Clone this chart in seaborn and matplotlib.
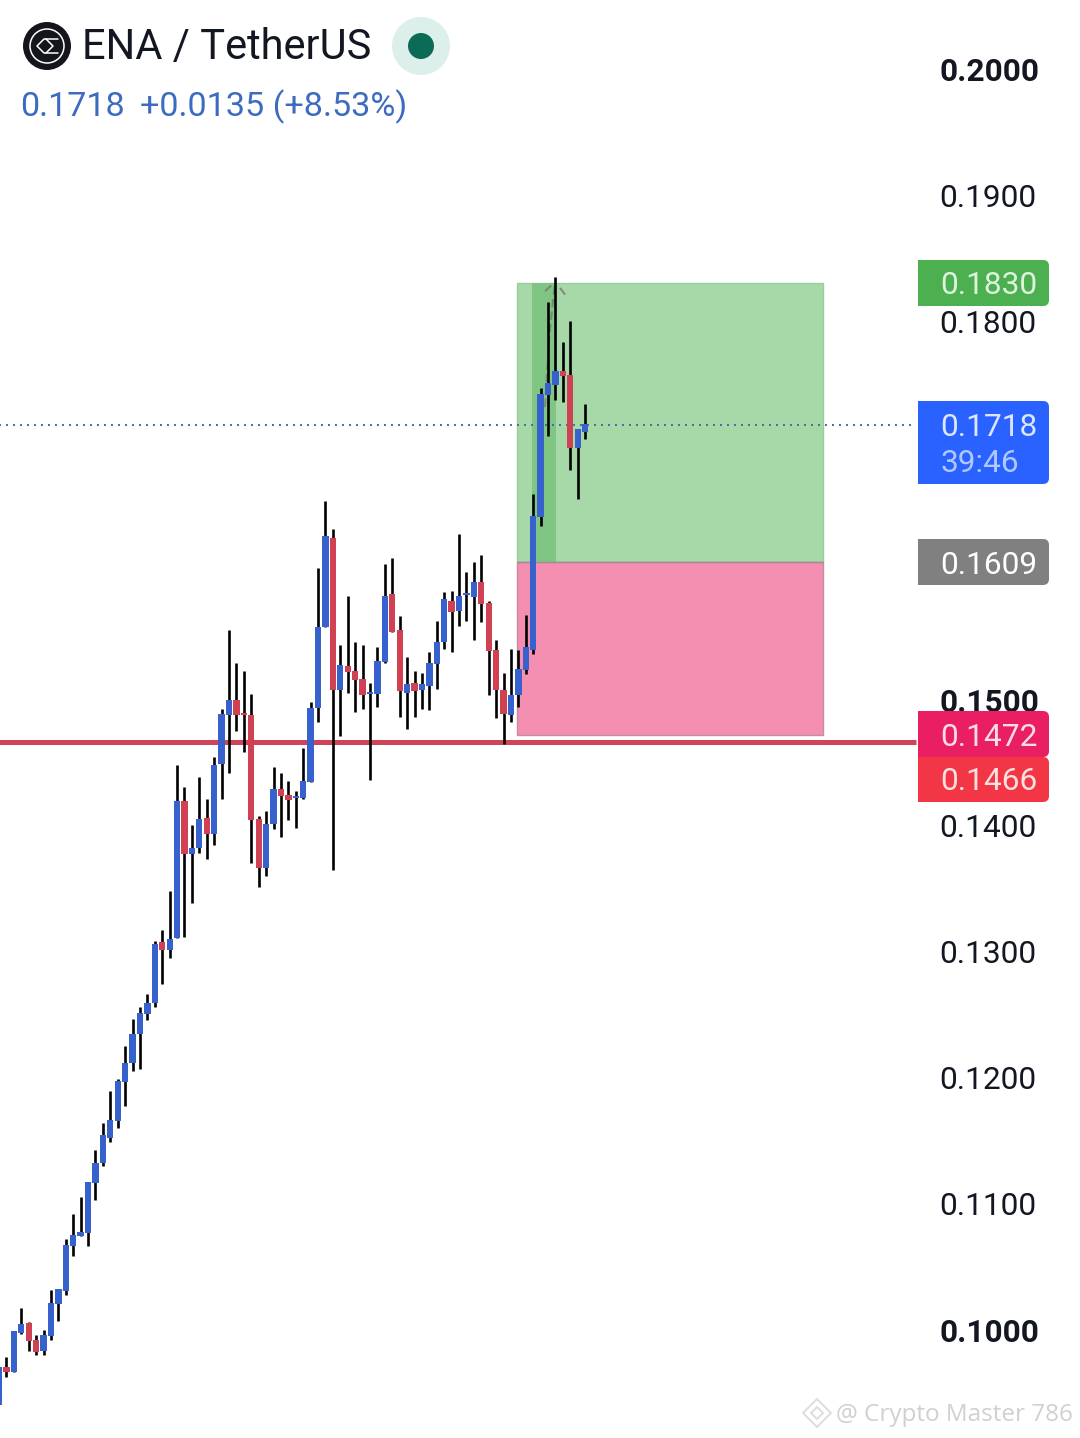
import pandas as pd
import matplotlib
matplotlib.use('Agg')
import matplotlib.pyplot as plt
import seaborn as sns
from matplotlib.lines import Line2D
from matplotlib.patches import Circle, FancyBboxPatch, Polygon, Rectangle
from matplotlib.transforms import Affine2D

# Candles
opens = [.09405,.09707,.09667,.09976,.10056,.09921,.09833,.09952,.10206,.10309,.10666,.10745,.10769,.11166,.11324,.11523,.11657,.11967,.12117,.12347,
         .12506,.12593,.13077,.13013,.13109,.14195,.13775,.13822,.1406,.13933,.14488,.14877,.14996,.14893,.14877,.14052,.13664,.14013,.1429,.14243,
         .14219,.14219,.14346,.14932,.15575,.1628,.15075,.15266,.15226,.15162,.15043,.15043,.15297,.15836,.15551,.15051,.15131,.15075,.15107,.15281,
         .15456,.15781,.15702,.15829,.15813,.15932,.15765,.15392,.15075,.14877,.15036,.15234,.15392,.16447,.17415,.17494,.17605,.17573,.16994,.17121]
closes = [.09707,.09667,.09992,.10048,.09913,.09826,.0996,.10214,.10325,.10674,.10753,.10777,.11174,.11324,.11546,.11665,.11975,.12117,.12347,.12514,
          .12593,.13061,.13013,.13101,.14195,.13775,.13822,.14052,.13933,.1448,.14885,.14996,.14877,.14877,.14044,.13664,.14013,.1429,.14235,.14203,
          .14235,.14354,.14932,.15575,.16296,.15075,.15273,.15218,.15155,.15036,.15059,.15305,.15821,.15535,.15067,.15123,.15067,.15123,.15289,.15456,
          .15797,.15694,.15821,.15844,.15932,.15757,.15384,.15075,.14885,.15036,.15242,.15416,.16455,.17422,.1751,.17605,.17565,.16994,.17145,.17185]
highs = [.09707,.09786,.09992,.10174,.10063,.0996,.1,.10317,.10325,.10722,.1092,.11055,.11174,.11427,.11642,.11895,.1199,.12252,.12466,.12561,
         .12664,.13085,.13172,.13481,.1448,.14306,.14005,.14385,.14211,.14544,.14925,.15551,.15289,.15226,.15043,.14076,.14116,.14465,.14417,.14354,
         .14274,.14615,.1498,.16043,.16574,.16352,.15432,.15821,.15456,.15432,.15131,.15416,.16074,.16122,.15662,.15337,.15226,.1521,.15377,.15622,
         .15852,.1586,.16312,.16011,.1609,.16146,.15781,.15472,.1521,.154,.15392,.1567,.16629,.1747,.18152,.1835,.17835,.18001,.17145,.17343]
lows = [.09405,.09627,.09667,.09968,.09833,.09802,.09802,.09921,.10071,.10278,.10587,.10745,.10666,.11031,.113,.11491,.11602,.11776,.12054,.1207,
        .12458,.12561,.12744,.1295,.13109,.13116,.13386,.13783,.13735,.13846,.14211,.14417,.1475,.14584,.13703,.13513,.136,.13973,.13909,.14044,
        .13981,.14211,.14346,.14821,.15575,.13648,.1471,.15051,.14901,.14925,.14362,.1494,.15289,.15535,.14861,.14766,.14861,.14925,.14917,.15083,
        .154,.15377,.15583,.15622,.15472,.15614,.15036,.14853,.14647,.14821,.1494,.15202,.15361,.16376,.17089,.17375,.17359,.1682,.1659,.17066]

tick_values = [0.10, 0.11, 0.12, 0.13, 0.14, 0.15, 0.18, 0.19, 0.20]
tick_labels = ['0.1000', '0.1100', '0.1200', '0.1300', '0.1400', '0.1500', '0.1800', '0.1900', '0.2000']
bold_labels = ['0.1000', '0.1500', '0.2000']

target_price = 0.1830
last_price = 0.1718
entry_price = 0.1609
stop_price = 0.1472
support_price = 0.1466

BLUE = '#3762CE'
RED = '#CF4153'
INK = '#131722'

df = pd.DataFrame({'idx': range(len(opens)), 'open': opens, 'close': closes, 'high': highs, 'low': lows})
df['body_low'] = df[['open', 'close']].min(axis=1)
df['height'] = (df['close'] - df['open']).abs()

sns.set_theme(style='white')
plt.rcParams['font.family'] = ['Roboto', 'DejaVu Sans']

fig = plt.figure(figsize=(10.8, 14.38), dpi=100, facecolor='white')
ax = fig.add_axes([0, 0, 1, 1])

# Long position box
ax.add_patch(Rectangle((69.8, entry_price), 41.25, target_price - entry_price, fc='#A6D8A8', ec='#9ACD9C', lw=1, zorder=0.5))
ax.add_patch(Rectangle((69.8, stop_price), 41.25, entry_price - stop_price, fc='#F48FB1', ec='#C78BA3', lw=1, zorder=0.5))
ax.add_patch(Rectangle((71.85, entry_price), 3.25, target_price - entry_price, fc='#80C583', lw=0, zorder=0.6))
ax.hlines(entry_price, 69.8, 111.05, color='#A08C94', lw=1, zorder=0.7)

ax.hlines(support_price, 0, 123.6, color='#CF4459', lw=3.6, zorder=1)
ax.hlines(last_price, 0, 123.4, color='#3C6FA8', lw=1.4, linestyles=(0, (1, 2.6)), zorder=1)
ax.vlines(df['idx'], df['low'], df['high'], color='black', lw=1.9, zorder=1.5)

up = df[df['close'] >= df['open']]
down = df[df['close'] < df['open']]
for part, col in [(up, BLUE), (down, RED)]:
    sns.barplot(data=part, x='idx', y='height', bottom=part['body_low'].to_numpy(), native_scale=True,
                width=0.85, color=col, saturation=1, linewidth=0, errorbar=None, zorder=2, ax=ax)

ax.set_xlim(0.135, 145.69)
ax.set_ylim(0.09144, 0.20547)
ax.set_xticks([])
ax.set_xlabel('')
ax.set_ylabel('')
ax.yaxis.tick_right()
ax.set_yticks(tick_values)
ax.set_yticklabels(tick_labels)
ax.tick_params(axis='y', length=0, pad=-101.5, labelsize=22.8, labelcolor=INK)
for lab in ax.get_yticklabels():
    if lab.get_text() in bold_labels:
        lab.set_fontweight('bold')
sns.despine(ax=ax, left=True, right=True, top=True, bottom=True)

# Everything below is placed in image pixels
px = Affine2D().scale(1, -1).translate(0, 1438)


def tag(top, bottom, col):
    ax.add_patch(FancyBboxPatch((922, top + 4), 123, bottom - top - 8, boxstyle='round,pad=4,rounding_size=6',
                                fc=col, lw=0, transform=px, zorder=5, clip_on=False))
    ax.add_patch(Rectangle((918, top), 40, bottom - top, fc=col, lw=0, transform=px, zorder=5))


def tag_text(y, s, col):
    ax.text(940.5, y, s, color=col, fontsize=22.8, va='center', ha='left', transform=px, zorder=6)


tag(260, 306, '#4CAF50')
tag_text(286, '0.1830', '#DDF3DD')
tag(401, 484, '#2962FF')
tag_text(427, '0.1718', '#DCE6FF')
tag_text(464, '39:46', '#B0C8FF')
tag(539, 585, '#808080')
tag_text(565, '0.1609', '#FFFFFF')
tag(711, 757, '#E91E63')
tag(757, 802, '#F23645')
tag_text(737, '0.1472', '#FBDCE8')
tag_text(782, '0.1466', '#FBE0E0')

# Header
ax.add_patch(Circle((47, 46), 24, fc='#14161C', lw=0, transform=px, zorder=6))
ax.add_patch(Circle((47, 46), 17, fc='none', ec='white', lw=1.1, transform=px, zorder=7))
ax.add_line(Line2D([58, 44, 37, 44, 58], [39, 39, 46, 53, 53], color='white', lw=1.1, transform=px, zorder=7))
ax.add_line(Line2D([46, 53, 46], [39, 46, 53], color='white', lw=1.1, transform=px, zorder=7))
ax.text(81.5, 47, 'ENA / TetherUS', fontsize=30, color=INK, va='center', ha='left', transform=px, zorder=6)
ax.add_patch(Circle((421, 46), 29, fc='#DCEFEA', lw=0, transform=px, zorder=6))
ax.add_patch(Circle((421, 46), 13, fc='#0B6B57', lw=0, transform=px, zorder=7))
ax.text(20, 107, '0.1718', fontsize=24.6, color='#3D6BBF', va='center', ha='left', transform=px, zorder=6)
ax.text(140, 107, '+0.0135 (+8.53%)', fontsize=24.6, color='#3D6BBF', va='center', ha='left', transform=px, zorder=6)

# Dashed arrow behind the spike
for xs, ys in [([545, 549, 551, 555], [407, 340, 320, 282]), ([545, 553], [291, 284]), ([560, 567], [288, 297])]:
    ax.add_line(Line2D(xs, ys, color='#6E7F70', alpha=0.8, lw=1.5, ls=(0, (4, 2)), transform=px, zorder=1.2))

# Watermark
ax.add_patch(Polygon([(817, 1399), (831, 1413), (817, 1427), (803, 1413)], fc='none', ec='#DDDDDD', lw=1.4, transform=px, zorder=6))
ax.add_patch(Polygon([(817, 1407), (823, 1413), (817, 1419), (811, 1413)], fc='none', ec='#DDDDDD', lw=1.4, transform=px, zorder=6))
ax.text(836, 1415, '@ Crypto Master 786', fontsize=17.5, color='#D0D0D0', family=['Open Sans', 'DejaVu Sans'],
        va='center', ha='left', transform=px, zorder=6)

fig.savefig('out.png', dpi=100, facecolor='white')
plt.close()
